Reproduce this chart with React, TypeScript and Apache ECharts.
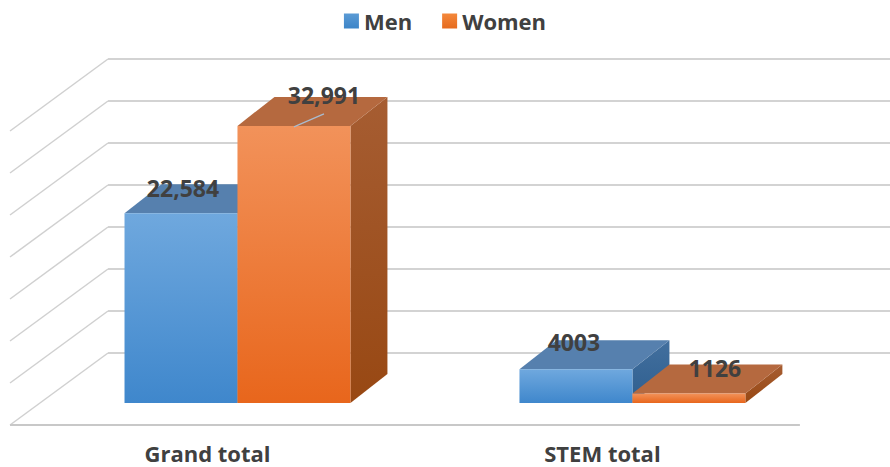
import React, { useEffect, useRef } from "react";
import * as echarts from "echarts";

const categories = ["Grand total", "STEM total"];
const menValues = [22584, 4003];
const womenValues = [32991, 1126];
const menLabels = ["22,584", "4003"];
const womenLabels = ["32,991", "1126"];
const yTicks = [0, 5000, 10000, 15000, 20000, 25000, 30000, 35000];

const FONT = "'Open Sans', 'Liberation Sans', sans-serif";
const TEXT_COLOR = "#404040";
// projection offsets (wall plane -> bar front / depth)
const FRONT_DX = -68;
const FRONT_DY = 50;
const DEPTH_DX = 37;
const DEPTH_DY = -29;
const FLOOR_DX = -98;
const FLOOR_DY = 72;
const BAR_RATIO = 0.286;
const X_MIN = -0.5;
const X_MAX = 1.48;

const grad = (a: string, b: string) =>
  new echarts.graphic.LinearGradient(0, 0, 0, 1, [
    { offset: 0, color: a },
    { offset: 1, color: b },
  ]);

const palettes = [
  {
    front: ["#6FA8DE", "#3F87CC"],
    top: "#5680AE",
    side: ["#426F9E", "#2F5F8F"],
  },
  {
    front: ["#F2925A", "#E8661C"],
    top: "#B5693F",
    side: ["#A65D32", "#984813"],
  },
];

// label shifts relative to (front-center x, back-top y): [dx, dy, leader]
const labelShift = [
  [
    [2, 4, 0],
    [-2, 2, 0],
  ],
  [
    [30, -2, 1],
    [26, 3, 0],
  ],
];

function makeBarRender(si: number, labels: string[]) {
  const pal = palettes[si];
  return (params: any, api: any) => {
    const cat = api.value(0);
    const v = api.value(1);
    const base = api.coord([cat, 0]);
    const topP = api.coord([cat, v]);
    const band = api.size([1, 0])[0];
    const w = band * BAR_RATIO;
    const cx = base[0] + FRONT_DX;
    const x0 = si === 0 ? cx - w : cx;
    const x1 = x0 + w;
    const yb = base[1] + FRONT_DY;
    const yt = topP[1] + FRONT_DY;
    const children: any[] = [
      {
        type: "polygon",
        shape: {
          points: [
            [x1, yt],
            [x1 + DEPTH_DX, yt + DEPTH_DY],
            [x1 + DEPTH_DX, yb + DEPTH_DY],
            [x1, yb],
          ],
        },
        style: { fill: grad(pal.side[0], pal.side[1]) },
      },
      {
        type: "polygon",
        shape: {
          points: [
            [x0, yt],
            [x1, yt],
            [x1 + DEPTH_DX, yt + DEPTH_DY],
            [x0 + DEPTH_DX, yt + DEPTH_DY],
          ],
        },
        style: { fill: pal.top },
      },
      {
        type: "rect",
        shape: { x: x0, y: yt, width: w, height: yb - yt },
        style: { fill: grad(pal.front[0], pal.front[1]) },
      },
    ];
    const sh = labelShift[si][params.dataIndex];
    const fcx = (x0 + x1) / 2;
    const lx = fcx + sh[0];
    const ly = yt + DEPTH_DY + sh[1];
    if (sh[2]) {
      children.push({
        type: "line",
        z2: 90,
        shape: { x1: fcx, y1: yt + 1, x2: lx, y2: ly + 19 },
        style: { stroke: "#A9BCD0", lineWidth: 1.2 },
      });
    }
    children.push({
      type: "text",
      z2: 100,
      x: lx,
      y: ly,
      style: {
        text: labels[params.dataIndex],
        fill: TEXT_COLOR,
        font: `bold 23px ${FONT}`,
        lineHeight: 24,
        align: "center",
        verticalAlign: "middle",
      },
    });
    return { type: "group", children };
  };
}

export default function App() {
  const ref = useRef<HTMLDivElement>(null);
  useEffect(() => {
    if (!ref.current) return;
    const chart = echarts.init(ref.current, undefined, { renderer: "svg" });
    chart.setOption({
      animation: false,
      backgroundColor: "#FFFFFF",
      legend: {
        data: ["Men", "Women"],
        left: "center",
        top: 5,
        icon: "rect",
        itemWidth: 15,
        itemHeight: 15,
        itemGap: 30,
        textStyle: {
          fontSize: 22,
          fontWeight: "bold",
          color: TEXT_COLOR,
          fontFamily: FONT,
        },
      },
      grid: { left: 108, top: 59, height: 294, right: 0 },
      xAxis: {
        type: "value",
        min: X_MIN,
        max: X_MAX,
        axisLine: { show: false },
        axisTick: { show: false },
        axisLabel: { show: false },
        splitLine: { show: false },
      },
      yAxis: {
        type: "value",
        min: 0,
        max: 35000,
        interval: 5000,
        axisLabel: { show: false },
        axisLine: { show: false },
        axisTick: { show: false },
        splitLine: { lineStyle: { color: "#D3D3D3", width: 2 } },
      },
      series: [
        {
          type: "custom",
          name: "wall",
          silent: true,
          data: yTicks.map((t) => [0, t]),
          renderItem: (params: any, api: any) => {
            const y = api.coord([0, api.value(1)])[1];
            const x = params.coordSys.x;
            const children: any[] = [
              {
                type: "line",
                shape: { x1: x, y1: y, x2: x + FLOOR_DX, y2: y + FLOOR_DY },
                style: { stroke: "#D0D0D0", lineWidth: 1.5 },
              },
            ];
            if (params.dataIndex === 0) {
              const xEnd = api.coord([categories.length - 0.5, 0])[0];
              children.push({
                type: "line",
                shape: {
                  x1: x + FLOOR_DX,
                  y1: y + FLOOR_DY,
                  x2: xEnd + FLOOR_DX,
                  y2: y + FLOOR_DY,
                },
                style: { stroke: "#C8C8C8", lineWidth: 2 },
              });
            }
            return { type: "group", children };
          },
        },
        {
          type: "custom",
          name: "cats",
          silent: true,
          data: categories.map((_, i) => [i, 0]),
          renderItem: (params: any, api: any) => {
            const p = api.coord([api.value(0), 0]);
            return {
              type: "text",
              x: p[0] + FLOOR_DX,
              y: p[1] + 100,
              style: {
                text: categories[params.dataIndex],
                fill: TEXT_COLOR,
                font: `bold 22px ${FONT}`,
                lineHeight: 22,
                align: "center",
                verticalAlign: "middle",
              },
            };
          },
        },
        {
          type: "custom",
          name: "Men",
          itemStyle: { color: grad("#5B9BD5", "#3D85C8") },
          data: menValues.map((v, i) => [i, v]),
          encode: { x: 0, y: 1 },
          renderItem: makeBarRender(0, menLabels),
        },
        {
          type: "custom",
          name: "Women",
          itemStyle: { color: grad("#F4883B", "#E66B1E") },
          data: womenValues.map((v, i) => [i, v]),
          encode: { x: 0, y: 1 },
          renderItem: makeBarRender(1, womenLabels),
        },
      ],
    });
    return () => chart.dispose();
  }, []);
  return (
    <div
      ref={ref}
      style={{ position: "fixed", left: 0, top: 0, width: 890, height: 467 }}
    />
  );
}
